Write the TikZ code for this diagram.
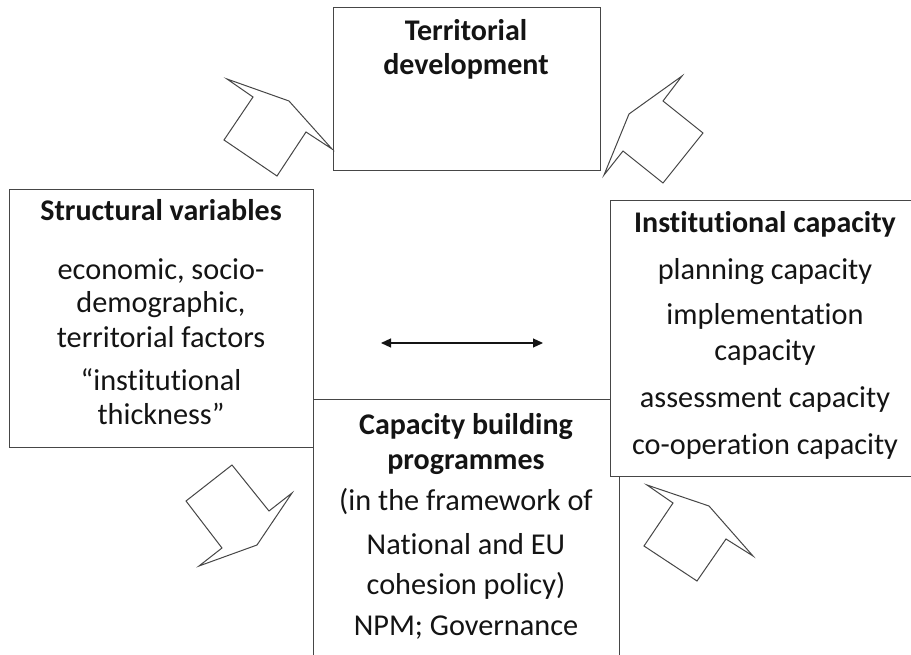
\documentclass[tikz,border=0pt]{standalone}
\usepackage{fontspec}
\setmainfont{Carlito}[Ligatures=NoCommon]
\usetikzlibrary{arrows.meta}
\definecolor{boxline}{RGB}{70,70,70}
\definecolor{ink}{RGB}{20,20,20}
\begin{document}
\begin{tikzpicture}[x=1pt,y=-1pt,
  box/.style={draw=boxline, line width=1pt, fill=white, inner sep=0pt},
  txt/.style={font=\fontsize{30.3}{36}\selectfont, text=ink, inner sep=0pt,
    text height=21.5pt, text depth=6.5pt},
  hdr/.style={txt, font=\fontsize{30}{36}\selectfont\bfseries},
  blockarrow/.style={draw=boxline, line width=1pt, fill=white, line join=miter},
  link/.style={draw=ink, line width=1.2pt,
    {Triangle[length=10pt,width=9pt]}-{Triangle[length=10pt,width=9pt]}}]

\useasboundingbox (0,0) rectangle (911,655);

% boxes
\node[box, minimum width=304, minimum height=257] (sv) at (161,318.5) {};
\node[box, minimum width=306, minimum height=266] (cb) at (466,532) {};
\node[box, minimum width=304, minimum height=275] (ic) at (762,338.5) {};
\node[box, minimum width=267, minimum height=163] (td) at (466.5,89.5) {};

% territorial development
\node[hdr] (td1) at (466,33) {Territorial};
\node[hdr] (td2) at (466,67) {development};

% structural variables
\node[hdr] (sv1) at (161,213) {Structural variables};
\foreach \i/\y/\t in {2/272/{economic, socio-}, 3/305/{demographic,},
    4/340/{territorial factors}, 5/383/{“institutional}, 6/417/{thickness”}}
  \node[txt] (sv\i) at (161,\y) {\t};

% institutional capacity
\node[hdr] (ic1) at (765,225) {Institutional capacity};
\foreach \i/\y/\t in {2/272/{planning capacity}, 3/317/{implementation},
    4/353/{capacity}, 5/400/{assessment capacity}, 6/447/{co-operation capacity}}
  \node[txt] (ic\i) at (765,\y) {\t};

% capacity building programmes
\node[hdr] (cb1) at (466,427) {Capacity building};
\node[hdr] (cb2) at (466,462) {programmes};
\foreach \i/\y/\t in {3/503/{(in the framework of}, 4/547/{National and EU},
    5/587/{cohesion policy)}, 6/628/{NPM; Governance}}
  \node[txt] (cb\i) at (466,\y) {\t};

% block arrows
\draw[blockarrow] (332,149) -- (306,132) -- (277,176) -- (224,140) -- (253,97)
  -- (227,79) -- (289,101) -- cycle;
\draw[blockarrow] (604,175) -- (623,151) -- (663,183) -- (703,133) -- (663,101)
  -- (682,76) -- (629,114) -- cycle;
\draw[blockarrow] (232,465) -- (269,511) -- (292,493) -- (257,545) -- (199,566)
  -- (222,548) -- (186,501) -- cycle;
\draw[blockarrow] (647,485) -- (673,503) -- (644,546) -- (697,581) -- (726,539)
  -- (753,556) -- (709,506) -- cycle;

% two-way link
\coordinate (la) at (381,343);
\coordinate (ra) at (543,343);
\draw[link] (la) -- (ra);
\end{tikzpicture}
\end{document}
